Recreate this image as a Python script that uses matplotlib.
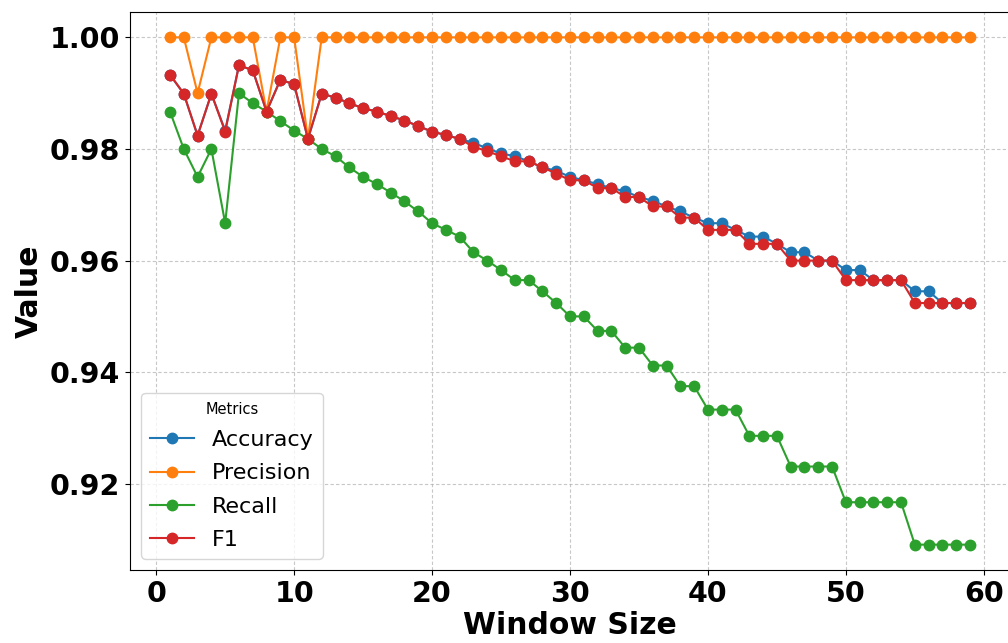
import matplotlib
matplotlib.use("Agg")
import matplotlib.pyplot as plt

window_sizes = list(range(1, 60))

accuracy = [0.9933, 0.9899, 0.9824, 0.9899, 0.9833, 0.9950, 0.9941, 0.9867, 0.9924, 0.9916,
            0.9818, 0.9899, 0.9892, 0.9882, 0.9873, 0.9867, 0.9859, 0.9851, 0.9841, 0.9831,
            0.9825, 0.9818, 0.9811, 0.9801, 0.9792, 0.9787, 0.9778, 0.9767, 0.9761, 0.9750,
            0.9744, 0.9737, 0.9730, 0.9724, 0.9714, 0.9707, 0.9697, 0.9688, 0.9677, 0.9667,
            0.9667, 0.9655, 0.9643, 0.9643, 0.9630, 0.9615, 0.9615, 0.9600, 0.9600, 0.9583,
            0.9583, 0.9565, 0.9565, 0.9565, 0.9545, 0.9545, 0.9524, 0.9524, 0.9524]

precision = [1.0, 1.0, 0.99, 1.0, 1.0, 1.0, 1.0, 0.9867, 1.0, 1.0,
             0.9818, 1.0, 1.0, 1.0, 1.0, 1.0, 1.0, 1.0, 1.0, 1.0,
             1.0, 1.0, 1.0, 1.0, 1.0, 1.0, 1.0, 1.0, 1.0, 1.0,
             1.0, 1.0, 1.0, 1.0, 1.0, 1.0, 1.0, 1.0, 1.0, 1.0,
             1.0, 1.0, 1.0, 1.0, 1.0, 1.0, 1.0, 1.0, 1.0, 1.0,
             1.0, 1.0, 1.0, 1.0, 1.0, 1.0, 1.0, 1.0, 1.0]

recall = [0.9867, 0.9800, 0.9750, 0.9800, 0.9667, 0.9900, 0.9882, 0.9867, 0.9850, 0.9833,
          0.9818, 0.9800, 0.9787, 0.9767, 0.9750, 0.9737, 0.9722, 0.9706, 0.9688, 0.9667,
          0.9655, 0.9643, 0.9615, 0.9600, 0.9583, 0.9565, 0.9565, 0.9545, 0.9524, 0.9500,
          0.9500, 0.9474, 0.9474, 0.9444, 0.9444, 0.9412, 0.9412, 0.9375, 0.9375, 0.9333,
          0.9333, 0.9333, 0.9286, 0.9286, 0.9286, 0.9231, 0.9231, 0.9231, 0.9231, 0.9167,
          0.9167, 0.9167, 0.9167, 0.9167, 0.9091, 0.9091, 0.9091, 0.9091, 0.9091]

f1 = [0.9933, 0.9899, 0.9824, 0.9899, 0.9831, 0.9950, 0.9941, 0.9867, 0.9924, 0.9916,
      0.9818, 0.9899, 0.9892, 0.9882, 0.9873, 0.9867, 0.9859, 0.9851, 0.9841, 0.9831,
      0.9825, 0.9818, 0.9804, 0.9796, 0.9787, 0.9778, 0.9778, 0.9767, 0.9756, 0.9744,
      0.9744, 0.9730, 0.9730, 0.9714, 0.9714, 0.9697, 0.9697, 0.9677, 0.9677, 0.9655,
      0.9655, 0.9655, 0.9630, 0.9630, 0.9630, 0.9600, 0.9600, 0.9600, 0.9600, 0.9565,
      0.9565, 0.9565, 0.9565, 0.9565, 0.9524, 0.9524, 0.9524, 0.9524, 0.9524]

series = [("Accuracy", accuracy, "#1f77b4"),
          ("Precision", precision, "#ff7f0e"),
          ("Recall", recall, "#2ca02c"),
          ("F1", f1, "#d62728")]

fig = plt.figure(figsize=(10.08, 6.43), dpi=100)
ax = fig.add_axes([130 / 1008, (643 - 570) / 643, (1010 - 130) / 1008, 558 / 643])

for name, vals, color in series:
    ax.plot(window_sizes, vals, marker="o", markersize=7.5, linewidth=1.5,
            color=color, label=name)

ax.grid(True, linestyle=(0, (3, 2)), color="#b0b0b0", alpha=0.7, linewidth=0.8)
ax.set_xticks([0, 10, 20, 30, 40, 50, 60])
ax.set_yticks([0.92, 0.94, 0.96, 0.98, 1.00])
ax.tick_params(axis="both", labelsize=20.5)
for lab in ax.get_xticklabels() + ax.get_yticklabels():
    lab.set_fontweight("bold")

ax.set_xlabel("Window Size", fontsize=21.5, fontweight="bold", labelpad=2)
ax.set_ylabel("Value", fontsize=21.5, fontweight="bold")

ax.legend(title="Metrics", loc="lower left", fontsize=16, title_fontsize=10.5,
          labelspacing=0.6)

fig.savefig("out.png", dpi=100)
